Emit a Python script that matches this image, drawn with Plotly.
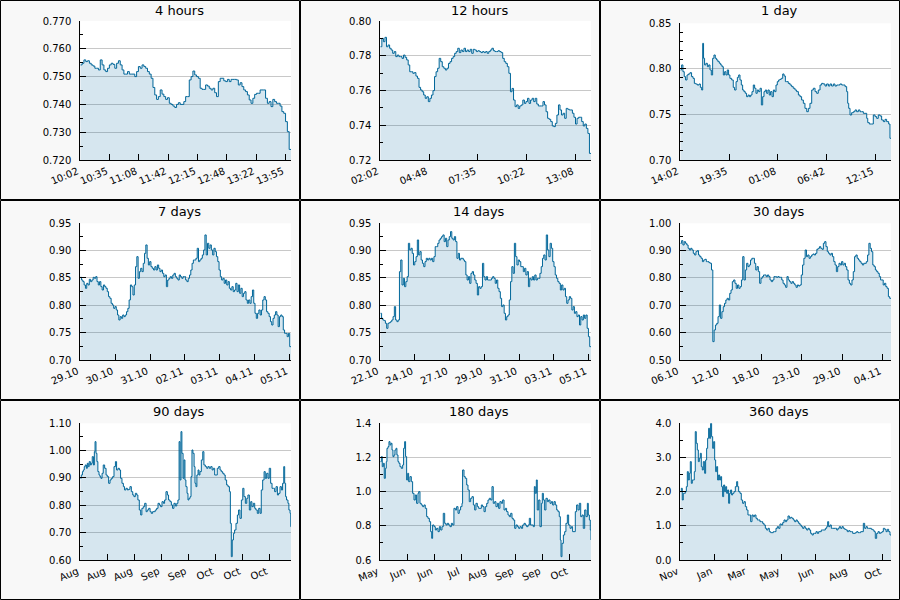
import numpy as np
import plotly.graph_objects as go

titles = ["4 hours", "12 hours", "1 day", "7 days", "14 days", "30 days",
          "90 days", "180 days", "360 days"]

# ---- tick labels ----
ticks_4h = ["10:02", "10:35", "11:08", "11:42", "12:15", "12:48", "13:22", "13:55"]
ticks_12h = ["02:02", "04:48", "07:35", "10:22", "13:08"]
ticks_1d = ["14:02", "19:35", "01:08", "06:42", "12:15"]
ticks_7d = ["29.10", "30.10", "31.10", "02.11", "03.11", "04.11", "05.11"]
ticks_14d = ["22.10", "24.10", "27.10", "29.10", "31.10", "03.11", "05.11"]
ticks_30d = ["06.10", "12.10", "18.10", "23.10", "29.10", "04.11"]
ticks_90d = ["Aug", "Aug", "Aug", "Sep", "Sep", "Oct", "Oct", "Oct"]
ticks_180d = ["May", "Jun", "Jun", "Jul", "Aug", "Sep", "Sep", "Oct"]
ticks_360d = ["Nov", "Jan", "Mar", "May", "Jun", "Aug", "Oct"]

# ---- series values (evenly spaced in time unless a time list is given) ----
v_4h = [0.7542,0.7548,0.7560,0.7554,0.7557,0.7548,0.7542,0.7538,0.7530,0.7530,0.7524,0.7560,0.7542,0.7524,0.7518,0.7530,
        0.7542,0.7548,0.7544,0.7530,0.7548,0.7557,0.7542,0.7524,0.7509,0.7509,0.7518,0.7509,0.7509,0.7509,0.7500,0.7518,
        0.7536,0.7530,0.7542,0.7536,0.7530,0.7518,0.7509,0.7494,0.7461,0.7434,0.7418,0.7428,0.7452,0.7437,0.7428,0.7418,
        0.7424,0.7404,0.7400,0.7394,0.7389,0.7400,0.7406,0.7400,0.7400,0.7410,0.7428,0.7428,0.7488,0.7500,0.7520,0.7506,
        0.7500,0.7494,0.7458,0.7454,0.7454,0.7470,0.7466,0.7458,0.7452,0.7458,0.7442,0.7428,0.7482,0.7494,0.7494,0.7485,
        0.7482,0.7490,0.7482,0.7490,0.7490,0.7490,0.7488,0.7470,0.7478,0.7464,0.7452,0.7446,0.7434,0.7416,0.7404,0.7422,
        0.7436,0.7440,0.7440,0.7452,0.7452,0.7452,0.7422,0.7404,0.7410,0.7392,0.7418,0.7410,0.7404,0.7404,0.7394,0.7374,
        0.7368,0.7338,0.7302,0.7238,0.7238]

v_12h = [0.7852,0.7900,0.7881,0.7906,0.7852,0.7862,0.7843,0.7833,0.7814,0.7824,0.7795,0.7804,0.7795,0.7795,0.7785,0.7804,
         0.7791,0.7776,0.7747,0.7708,0.7708,0.7699,0.7703,0.7683,0.7670,0.7618,0.7603,0.7593,0.7574,0.7555,0.7564,0.7536,
         0.7555,0.7574,0.7599,0.7680,0.7708,0.7728,0.7785,0.7766,0.7737,0.7728,0.7718,0.7728,0.7756,0.7766,0.7785,0.7795,
         0.7814,0.7824,0.7843,0.7818,0.7833,0.7824,0.7843,0.7824,0.7833,0.7824,0.7837,0.7814,0.7837,0.7833,0.7824,0.7829,
         0.7824,0.7818,0.7824,0.7818,0.7824,0.7814,0.7824,0.7833,0.7843,0.7829,0.7824,0.7824,0.7829,0.7824,0.7818,0.7785,
         0.7766,0.7756,0.7737,0.7699,0.7593,0.7612,0.7545,0.7507,0.7517,0.7497,0.7511,0.7517,0.7545,0.7526,0.7536,0.7555,
         0.7526,0.7545,0.7555,0.7536,0.7555,0.7522,0.7511,0.7511,0.7511,0.7536,0.7517,0.7478,0.7440,0.7434,0.7421,0.7396,
         0.7392,0.7411,0.7459,0.7517,0.7488,0.7459,0.7469,0.7440,0.7497,0.7492,0.7488,0.7488,0.7469,0.7446,0.7407,0.7440,
         0.7446,0.7446,0.7421,0.7396,0.7407,0.7382,0.7353,0.7238,0.7238]

t_1d = [0,9,18,27,36,46,55,66,77,87,96,105,116,128,137,146,153,159,166,175,185,194,203,212,221,230,239,248,257,267,
        276,285,294,303,312,321,330,339,351,362,371,381,390,399,408,417,426,435,444,453,463,472,481,490,499,508,517,526,
        535,545,554,563,572,581,590,599,608,617,627,636,645,654,663,672,681,690,700,709,718,727,738,750,761,772,784,795,
        807,818,829,841,852,864,875,886,898,909,921,932,943,955,966,977,989,1000,1012,1023,1034,1046,1057,1069,1080,1091,
        1103,1114,1126,1137,1144,1151,1160,1171,1183,1194,1205,1217,1228,1239,1251,1262,1274,1281,1292,1308,1319,1331,
        1342,1353,1365,1376,1388,1399,1410,1424,1433,1440]
v_1d = [0.7988,0.8043,0.7969,0.7915,0.7878,0.7933,0.7944,0.7958,0.7915,0.7896,0.7841,0.7834,0.7823,0.7834,0.7797,0.7768,
        0.8280,0.8116,0.8043,0.8061,0.8024,0.8043,0.7988,0.7933,0.8116,0.8152,0.8116,0.8098,0.8079,0.8061,0.8043,0.8024,
        0.7933,0.7969,0.7933,0.7988,0.7933,0.7896,0.7878,0.7797,0.7768,0.7860,0.7907,0.7933,0.7878,0.7823,0.7768,0.7750,
        0.7732,0.7695,0.7713,0.7695,0.7713,0.7750,0.7823,0.7787,0.7732,0.7768,0.7750,0.7787,0.7604,0.7695,0.7750,0.7768,
        0.7732,0.7768,0.7713,0.7750,0.7695,0.7768,0.7750,0.7823,0.7860,0.7878,0.7885,0.7896,0.7944,0.7922,0.7860,0.7860,
        0.7841,0.7823,0.7805,0.7787,0.7768,0.7750,0.7713,0.7695,0.7658,0.7622,0.7567,0.7530,0.7567,0.7622,0.7768,0.7787,
        0.7750,0.7732,0.7768,0.7823,0.7841,0.7834,0.7812,0.7834,0.7812,0.7834,0.7812,0.7834,0.7812,0.7823,0.7823,0.7834,
        0.7823,0.7823,0.7805,0.7750,0.7622,0.7567,0.7494,0.7519,0.7530,0.7549,0.7530,0.7549,0.7530,0.7530,0.7512,0.7512,
        0.7457,0.7410,0.7395,0.7395,0.7494,0.7476,0.7457,0.7494,0.7483,0.7439,0.7421,0.7446,0.7421,0.7395,0.7238,0.7238]

v_7d = [0.8512,0.8463,0.8433,0.8372,0.8311,0.8402,0.8372,0.8476,0.8433,0.8463,0.8512,0.8494,0.8524,0.8433,0.8372,0.8433,
        0.8341,0.8280,0.8372,0.8341,0.8311,0.8250,0.8159,0.8128,0.8037,0.8006,0.7945,0.7976,0.7915,0.7823,0.7732,0.7793,
        0.7762,0.7823,0.7793,0.7823,0.7884,0.7945,0.8098,0.8372,0.8341,0.8189,0.8372,0.8707,0.8890,0.8494,0.8616,0.8677,
        0.8616,0.8768,0.8951,0.9104,0.8860,0.8738,0.8799,0.8707,0.8677,0.8646,0.8707,0.8646,0.8738,0.8677,0.8616,0.8646,
        0.8585,0.8524,0.8555,0.8341,0.8463,0.8494,0.8524,0.8494,0.8555,0.8585,0.8524,0.8494,0.8463,0.8555,0.8524,0.8494,
        0.8524,0.8524,0.8463,0.8433,0.8494,0.8555,0.8646,0.8768,0.8829,0.8829,0.8860,0.9043,0.8799,0.8829,0.8860,0.8921,
        0.9012,0.9287,0.8921,0.9134,0.9043,0.9104,0.9012,0.8921,0.9043,0.8982,0.8890,0.8799,0.8646,0.8524,0.8463,0.8494,
        0.8402,0.8463,0.8372,0.8433,0.8311,0.8280,0.8341,0.8250,0.8280,0.8402,0.8250,0.8372,0.8220,0.8311,0.8159,0.8220,
        0.8250,0.8098,0.8037,0.8098,0.8037,0.8159,0.8280,0.8037,0.7854,0.7762,0.7854,0.7915,0.7823,0.7915,0.8098,0.8159,
        0.8098,0.7884,0.7854,0.7793,0.7701,0.7640,0.7762,0.7823,0.7884,0.7823,0.7610,0.7793,0.7823,0.7793,0.7549,0.7488,
        0.7488,0.7427,0.7488,0.7244,0.7244]

v_14d = [0.7854,0.7762,0.7732,0.7720,0.7671,0.7579,0.7671,0.7683,0.7701,0.7732,0.7793,0.7976,0.7732,0.7701,0.7732,0.8616,
         0.8829,0.8372,0.8494,0.8341,0.8433,0.8524,0.9134,0.9012,0.9043,0.8951,0.8738,0.8799,0.8890,0.9195,0.8921,0.8982,
         0.8829,0.8768,0.8707,0.8799,0.8860,0.8829,0.8860,0.8829,0.8860,0.8799,0.8890,0.9073,0.9073,0.9134,0.9195,0.9226,
         0.9256,0.9287,0.9165,0.9226,0.9073,0.9195,0.9256,0.9348,0.9226,0.9195,0.9256,0.9165,0.8860,0.8951,0.8829,0.8860,
         0.8860,0.8829,0.8799,0.8555,0.8463,0.8524,0.8402,0.8585,0.8616,0.8555,0.8463,0.8402,0.8189,0.8341,0.8311,0.8341,
         0.8768,0.8524,0.8463,0.8524,0.8463,0.8463,0.8463,0.8494,0.8524,0.8494,0.8402,0.8463,0.8311,0.8250,0.8128,0.7976,
         0.8006,0.7854,0.7732,0.7793,0.7823,0.8098,0.8433,0.8707,0.8585,0.9134,0.8890,0.8738,0.8829,0.8799,0.8707,0.8707,
         0.8616,0.8677,0.8555,0.8616,0.8341,0.8494,0.8463,0.8524,0.8463,0.8555,0.8463,0.8494,0.8494,0.8585,0.8707,0.8860,
         0.8921,0.8829,0.9287,0.9012,0.8890,0.9134,0.9043,0.8799,0.8707,0.8555,0.8494,0.8433,0.8402,0.8280,0.8372,0.8280,
         0.8311,0.8159,0.8037,0.8098,0.8159,0.8128,0.7915,0.7976,0.7854,0.7884,0.7793,0.7823,0.7640,0.7793,0.7732,0.7823,
         0.7762,0.7823,0.7579,0.7427,0.7244,0.7244]

v_30d = [0.9268,0.9366,0.9207,0.9329,0.9268,0.9207,0.9085,0.9024,0.9085,0.9024,0.8902,0.8841,0.8963,0.9000,0.8841,0.8780,
         0.8720,0.8598,0.8659,0.8683,0.8598,0.8598,0.8561,0.8537,0.8293,0.5671,0.6098,0.6280,0.6341,0.6585,0.7012,0.6524,
         0.6768,0.6951,0.7073,0.7195,0.7256,0.7195,0.7439,0.7561,0.7866,0.7927,0.7805,0.7622,0.7744,0.7622,0.7683,0.7927,
         0.8780,0.7927,0.8293,0.8537,0.8415,0.8476,0.8659,0.8720,0.8720,0.8537,0.8293,0.8415,0.8232,0.7805,0.7988,0.8049,
         0.8110,0.8110,0.8049,0.8110,0.8049,0.7927,0.7866,0.7927,0.8049,0.8049,0.8024,0.8049,0.8024,0.8024,0.7927,0.7805,
         0.7744,0.7659,0.8049,0.7927,0.7866,0.7805,0.7866,0.7805,0.7744,0.7659,0.7744,0.7707,0.7744,0.8110,0.8476,0.8720,
         0.9024,0.8780,0.8841,0.8720,0.8780,0.8841,0.8878,0.8841,0.8902,0.9049,0.9085,0.9146,0.9085,0.9049,0.9268,0.9329,
         0.9146,0.8963,0.8902,0.8841,0.8902,0.8780,0.8598,0.8476,0.8232,0.8415,0.8537,0.8476,0.8598,0.8476,0.8537,0.8415,
         0.8293,0.7927,0.7805,0.7744,0.7927,0.8232,0.8780,0.8841,0.8720,0.8659,0.8598,0.8537,0.8476,0.8537,0.8537,0.8598,
         0.8841,0.9268,0.9085,0.8963,0.8476,0.8415,0.8293,0.8232,0.8171,0.8049,0.7927,0.7927,0.7744,0.7805,0.7683,0.7622,
         0.7317,0.7256,0.7256]

t_90d = [0,0.4,0.9,1.3,1.7,2.1,2.6,3.0,3.4,3.8,4.3,4.7,5.1,5.6,6.0,6.3,6.7,7.1,7.5,8.0,8.4,8.8,9.3,9.8,10.4,11.0,11.5,
         12.1,12.7,13.2,13.8,14.4,15.0,15.5,16.1,16.7,17.2,17.8,18.4,18.9,19.5,20.1,20.6,21.2,21.8,22.4,22.9,23.5,24.1,
         24.6,25.2,25.8,26.3,26.9,27.5,28.1,28.6,29.2,29.8,30.3,30.9,31.5,32.0,32.6,33.2,33.8,34.3,34.9,35.5,36.0,36.6,
         37.2,37.7,38.3,38.9,39.4,40.0,40.6,41.2,41.7,42.2,42.6,43.0,43.4,43.9,44.3,44.7,45.1,45.6,46.0,46.4,46.9,47.3,
         47.7,48.1,48.6,49.0,49.4,49.8,50.3,50.7,51.1,51.7,52.3,52.8,53.4,54.0,54.5,55.1,55.7,56.3,56.8,57.4,58.0,58.5,
         59.1,59.7,60.2,60.8,61.4,61.9,62.5,63.1,63.7,64.1,64.5,64.9,65.4,65.9,66.5,67.1,67.6,68.2,68.8,69.4,69.9,70.5,
         71.1,71.6,72.2,72.8,73.3,73.9,74.5,75.0,75.6,76.2,76.8,77.3,77.9,78.5,79.0,79.6,80.2,80.7,81.3,81.9,82.5,83.0,
         83.6,84.2,84.7,85.3,85.9,86.4,86.9,87.3,87.7,88.1,88.7,89.1,89.6,89.9,90.0]
v_90d = [0.8988,0.9110,0.9232,0.9293,0.9415,0.9476,0.9354,0.9537,0.9415,0.9598,0.9476,0.9537,0.9780,0.9476,0.9963,1.0329,
         0.9902,0.9598,0.9232,0.9110,0.9049,0.8988,0.9171,0.9476,0.9354,0.9110,0.9049,0.8805,0.8927,0.8988,0.9049,0.9415,
         0.9598,0.9293,0.9354,0.9293,0.8988,0.8805,0.8683,0.8561,0.8622,0.8561,0.8585,0.8683,0.8500,0.8378,0.8317,0.8439,
         0.8378,0.8195,0.7829,0.7646,0.7890,0.7951,0.8073,0.7768,0.7829,0.7890,0.7768,0.7707,0.7768,0.7768,0.7829,0.7890,
         0.8073,0.8012,0.7951,0.8134,0.8073,0.8195,0.8500,0.8378,0.8195,0.8134,0.8012,0.7890,0.8073,0.7976,0.8073,0.8195,
         1.0329,0.8927,1.0695,0.9902,0.8988,0.9659,0.8927,0.8683,0.8439,0.8195,0.8256,0.8317,0.9049,1.0024,0.9902,0.9415,
         0.8805,0.8683,0.9110,0.9293,0.9110,0.9232,0.9659,0.9963,0.9476,0.9415,0.9354,0.9415,0.9354,0.9415,0.9293,0.9354,
         0.9110,0.9110,0.9354,0.9415,0.9293,0.9232,0.9171,0.9110,0.8927,0.8744,0.8683,0.8500,0.7341,0.6122,0.6732,0.6976,
         0.7098,0.7341,0.7646,0.7829,0.7524,0.8195,0.8622,0.8317,0.8073,0.8256,0.8378,0.7829,0.8134,0.7951,0.8073,0.7890,
         0.7829,0.7707,0.7890,0.7707,0.8561,0.8927,0.9232,0.8988,0.9171,0.8988,0.9354,0.8805,0.8622,0.8622,0.8500,0.8683,
         0.8378,0.8439,0.8683,0.8561,0.8805,0.9415,0.8805,0.8317,0.8195,0.8073,0.7829,0.7707,0.7220,0.7220]

t_180d = [0,0.9,1.7,2.6,3.4,4.3,5.1,5.7,6.6,7.4,8.3,9.1,10.0,10.8,11.7,12.5,13.4,14.2,15.1,15.9,16.8,17.9,19.1,19.9,
          20.8,21.6,22.5,23.4,24.2,25.3,26.5,27.6,28.8,29.9,31.0,32.2,32.8,33.9,35.0,36.2,37.3,38.4,39.6,40.7,41.9,43.0,
          43.9,44.7,45.9,47.0,48.1,49.3,50.4,51.6,52.7,53.8,55.0,56.1,57.2,58.4,59.5,60.7,61.8,62.9,64.1,65.2,66.4,67.5,
          68.6,69.8,70.3,71.5,72.6,73.8,74.9,76.0,77.2,78.3,79.5,80.6,81.7,82.9,84.0,85.2,86.3,87.4,88.6,89.7,90.9,92.0,
          93.1,94.3,95.4,96.5,97.7,98.8,100.0,101.1,102.2,103.4,104.5,105.7,106.8,107.9,109.1,110.2,111.4,112.5,113.6,
          114.8,115.9,117.1,118.2,119.3,120.5,121.6,122.8,123.9,125.0,126.2,127.3,128.4,129.6,130.7,131.6,132.4,133.3,
          134.1,135.3,136.4,137.6,138.4,139.3,140.4,141.5,142.7,143.8,145.0,146.1,147.2,148.4,149.5,150.7,151.8,152.9,
          153.8,154.4,155.2,156.4,157.5,158.6,159.8,160.9,162.1,163.2,164.3,165.5,166.6,167.7,168.9,170.0,171.2,172.3,
          173.4,174.6,175.7,176.9,177.7,178.6,179.4,180.0]
v_180d = [1.1756,1.2049,1.1463,1.1659,1.0780,1.1366,1.1756,1.2537,1.2634,1.2927,1.2732,1.2829,1.2439,1.2049,1.2146,1.2439,
          1.2537,1.2146,1.1756,1.1659,1.1463,1.1366,1.1561,1.2537,1.2927,1.2049,1.0683,1.1073,1.0585,1.0878,1.0585,0.9902,
          0.9512,0.9805,0.9317,0.9902,1.0000,0.9317,0.9220,0.9122,0.9220,0.9024,0.8537,0.8439,0.8244,0.7659,0.7268,0.8049,
          0.7951,0.7756,0.7854,0.7659,0.7951,0.7756,0.7951,0.8732,0.8146,0.8049,0.8146,0.8049,0.7951,0.8146,0.8049,0.9024,
          0.8927,0.9122,0.8732,0.8927,0.9122,0.9317,1.1268,1.0878,1.0780,1.0390,1.0098,0.9415,0.9610,0.9707,0.9220,0.8927,
          0.9317,0.9122,0.9024,0.9024,0.9220,0.9122,0.8829,0.9122,0.9317,0.9512,0.9610,0.9512,1.0293,0.9317,0.9415,0.9122,
          0.9317,0.9024,0.9415,0.9317,0.9512,0.8927,0.9024,0.8829,0.8634,0.8537,0.8732,0.8439,0.8341,0.7854,0.8049,0.7951,
          0.7854,0.7951,0.7854,0.8049,0.8146,0.8049,0.7951,0.8049,0.8439,0.8049,0.8049,0.7951,1.0293,0.9902,1.0683,0.8927,
          0.9512,0.7951,0.9317,0.9902,0.9512,0.8927,0.9610,0.9415,0.9512,0.9317,0.9415,0.9220,0.9415,0.9220,0.8927,0.8829,
          0.8537,0.7171,0.6195,0.6976,0.7463,0.7659,0.8146,0.8634,0.8049,0.7854,0.7951,0.7659,0.7659,0.8829,0.9220,0.8927,
          0.9317,0.8537,0.8634,0.7854,0.8927,0.8537,0.9317,0.8634,0.8341,0.7756,0.7171]

t_360d = [0,1.7,3.4,5.1,6.8,8.5,10.3,12.0,13.7,15.4,17.1,18.8,20.5,22.2,23.9,25.6,27.3,29.1,30.8,32.5,34.2,35.9,37.6,
          39.3,41.6,43.3,45.0,46.7,48.4,50.1,51.8,53.5,55.3,57.0,58.7,60.4,62.1,63.8,65.5,67.2,68.9,70.6,72.3,74.1,75.8,
          77.5,79.2,80.9,82.6,84.3,86.0,87.7,89.4,91.7,94.0,96.3,98.0,99.7,102.0,104.2,106.5,108.8,111.1,113.4,115.6,
          117.9,120.2,122.5,124.7,127.0,129.3,131.6,133.9,136.1,138.4,140.7,143.0,145.3,147.5,149.8,152.1,154.4,156.6,
          158.9,161.2,163.5,165.8,168.0,170.3,172.6,174.9,177.2,179.4,181.7,184.0,186.3,188.5,190.8,193.1,195.4,197.7,
          199.9,202.2,204.5,206.8,209.1,211.3,213.6,215.9,218.2,220.4,222.7,225.0,227.3,229.6,231.8,234.1,236.4,238.7,
          240.9,243.2,245.5,247.8,250.1,251.8,253.5,255.8,258.0,260.3,262.6,264.9,267.2,269.4,271.7,274.0,276.3,278.5,
          280.8,283.1,285.4,287.7,289.9,292.2,294.5,296.8,299.1,301.3,303.6,305.9,308.2,310.4,312.7,315.0,317.3,319.6,
          321.8,324.1,326.4,328.7,331.0,333.2,335.5,337.8,340.1,342.3,344.6,346.9,349.2,351.5,353.7,356.0,358.3,360.0]
v_360d = [2.000,2.098,1.756,1.951,1.951,2.000,2.146,2.585,2.341,2.537,2.878,2.244,2.341,2.341,2.585,3.756,3.415,3.220,
          2.878,2.976,3.122,2.732,2.634,2.878,2.537,2.927,3.268,3.561,3.854,3.561,4.000,3.610,3.268,3.463,2.927,2.585,
          2.732,2.341,2.488,2.341,2.439,2.146,1.854,2.195,2.000,2.146,1.951,2.049,1.659,1.951,2.049,1.902,1.951,2.000,
          2.146,2.293,2.146,2.000,1.951,1.756,1.659,1.707,1.561,1.463,1.317,1.317,1.122,1.317,1.268,1.317,1.220,1.171,
          1.171,1.122,1.122,1.073,1.024,0.927,0.878,0.927,0.829,0.800,0.800,0.829,0.829,0.927,0.976,0.927,1.054,1.024,
          1.093,1.171,1.122,1.171,1.288,1.220,1.249,1.220,1.171,1.122,1.171,1.122,1.073,1.024,0.976,0.927,0.976,0.927,
          0.878,0.927,0.878,0.780,0.732,0.780,0.780,0.829,0.780,0.829,0.829,0.878,0.878,0.878,0.927,0.976,1.122,0.976,
          1.024,0.927,0.927,0.927,0.927,0.878,0.927,0.976,0.927,0.976,0.927,0.898,0.878,0.829,0.859,0.829,0.829,0.780,
          0.780,0.800,0.829,0.800,0.800,0.829,0.829,1.073,0.927,0.976,0.927,0.927,0.927,0.898,0.878,0.829,0.634,0.780,
          0.829,0.780,0.800,0.829,0.927,0.898,0.829,0.898,0.829,0.732,0.732]

# ---- panel configuration (time span, tick spacing, y scale) ----
panels = [
    dict(t=None,   v=v_4h,   span=240,  step=33.4,  labels=ticks_4h,   yr=(0.72, 0.77), dt=0.01, mdt=0.005, fmt=".3f"),
    dict(t=None,   v=v_12h,  span=720,  step=166.7, labels=ticks_12h,  yr=(0.72, 0.80), dt=0.02, mdt=0.01,  fmt=".2f"),
    dict(t=t_1d,   v=v_1d,   span=1440, step=333.3, labels=ticks_1d,   yr=(0.70, 0.85), dt=0.05, mdt=0.01,  fmt=".2f"),
    dict(t=None,   v=v_7d,   span=168,  step=27.8,  labels=ticks_7d,   yr=(0.70, 0.95), dt=0.05, mdt=0.025, fmt=".2f"),
    dict(t=None,   v=v_14d,  span=336,  step=55.3,  labels=ticks_14d,  yr=(0.70, 0.95), dt=0.05, mdt=0.025, fmt=".2f"),
    dict(t=None,   v=v_30d,  span=720,  step=138.5, labels=ticks_30d,  yr=(0.50, 1.00), dt=0.10, mdt=0.05,  fmt=".2f"),
    dict(t=t_90d,  v=v_90d,  span=90,   step=11.53, labels=ticks_90d,  yr=(0.60, 1.10), dt=0.10, mdt=0.05,  fmt=".2f"),
    dict(t=t_180d, v=v_180d, span=180,  step=23.07, labels=ticks_180d, yr=(0.6, 1.4),   dt=0.2,  mdt=0.1,   fmt=".1f"),
    dict(t=t_360d, v=v_360d, span=360,  step=57.7,  labels=ticks_360d, yr=(0.0, 4.0),   dt=1.0,  mdt=0.5,   fmt=".1f"),
]

LINE = "#006699"
FILL = "rgba(0,102,153,0.16)"
FONT = "DejaVu Sans"
W, H = 900, 600
PW, PH = 300, 200

fig = go.Figure()
layout = dict(width=W, height=H, autosize=False, margin=dict(l=0, r=0, t=0, b=0, pad=0, autoexpand=False),
              paper_bgcolor="#f8f8f8", plot_bgcolor="white",
              font=dict(family=FONT, size=10, color="black"),
              showlegend=False, annotations=[], shapes=[])

for i, p in enumerate(panels):
    r, c = divmod(i, 3)
    sfx = "" if i == 0 else str(i + 1)
    n = len(p["v"])
    x = p["t"] if p["t"] is not None else np.linspace(0, p["span"], n)
    fig.add_trace(go.Scatter(x=x, y=p["v"], mode="lines",
                             line=dict(color=LINE, width=1, shape="hv"),
                             fill="tozeroy", fillcolor=FILL,
                             xaxis="x" + sfx, yaxis="y" + sfx,
                             hoverinfo="skip"))
    x0, y0 = c * PW, r * PH
    top = 21 if i < 2 else 23.3
    xdom = [(x0 + 80.3) / W, (x0 + 291) / W]
    ydom = [1 - (y0 + 160) / H, 1 - (y0 + top) / H]
    nt = len(p["labels"])
    layout["xaxis" + sfx] = dict(
        domain=xdom, anchor="y" + sfx, range=[0, p["span"]], automargin=False,
        tickmode="array", tickvals=[k * p["step"] for k in range(nt)], ticktext=p["labels"],
        ticks="inside", ticklen=6, tickcolor="black", tickangle=-23,
        ticklabelshift=-3, ticklabelstandoff=1,
        showline=True, linecolor="black", linewidth=1,
        showgrid=False, zeroline=False, tickfont=dict(size=10),
        fixedrange=True)
    lo, hi = p["yr"]
    layout["yaxis" + sfx] = dict(
        domain=ydom, anchor="x" + sfx, range=[lo, hi + 1e-9], automargin=False,
        tickmode="linear", tick0=lo, dtick=p["dt"], tickformat=p["fmt"],
        ticks="inside", ticklen=6, tickcolor="black",
        minor=dict(ticks="inside", ticklen=3, tickcolor="black", dtick=p["mdt"], tick0=lo, showgrid=False),
        showline=True, linecolor="black", linewidth=1,
        showgrid=True, gridcolor="#c8c8c8", gridwidth=1, zeroline=False,
        tickfont=dict(size=10), ticklabelstandoff=6, fixedrange=True)
    layout["annotations"].append(dict(
        text=titles[i], x=(x0 + 179) / W, y=1 - (y0 + 11) / H, xref="paper", yref="paper",
        showarrow=False, xanchor="center", yanchor="middle", font=dict(size=13, color="black")))
    layout["shapes"].append(dict(
        type="rect", xref="paper", yref="paper",
        x0=(x0 + 0.5) / W, x1=(x0 + PW - 0.5) / W,
        y0=1 - (y0 + PH - 0.5) / H, y1=1 - (y0 + 0.5) / H,
        line=dict(color="black", width=1), fillcolor="rgba(0,0,0,0)"))

fig.update_layout(**layout)
fig.write_html("out.html", config=dict(displayModeBar=False),
               post_script="document.body.style.margin='0';document.body.style.overflow='hidden';")
